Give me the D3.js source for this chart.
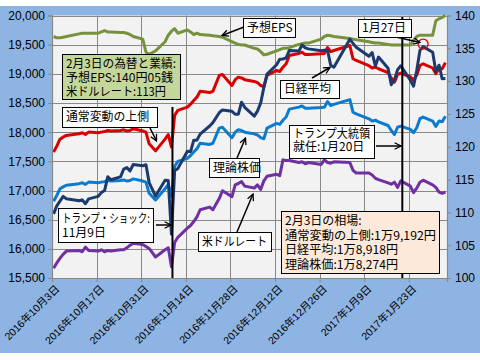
<!DOCTYPE html>
<html><head><meta charset="utf-8">
<script src="https://cdn.jsdelivr.net/npm/d3@7"></script>
<style>body{margin:0;background:#fff}svg{display:block}</style>
</head><body><svg id="c" width="480" height="360"></svg>
<script>
// ---------- DATA ----------
const dates = [
"2016-10-03","2016-10-04","2016-10-05","2016-10-06","2016-10-07","2016-10-11","2016-10-12","2016-10-13","2016-10-14","2016-10-17",
"2016-10-18","2016-10-19","2016-10-20","2016-10-21","2016-10-24","2016-10-25","2016-10-26","2016-10-27","2016-10-28","2016-10-31",
"2016-11-01","2016-11-02","2016-11-04","2016-11-07","2016-11-08","2016-11-09","2016-11-10","2016-11-11","2016-11-14","2016-11-15",
"2016-11-16","2016-11-17","2016-11-18","2016-11-21","2016-11-22","2016-11-24","2016-11-25","2016-11-28","2016-11-29","2016-11-30",
"2016-12-01","2016-12-02","2016-12-05","2016-12-06","2016-12-07","2016-12-08","2016-12-09","2016-12-12","2016-12-13","2016-12-14",
"2016-12-15","2016-12-16","2016-12-19","2016-12-20","2016-12-21","2016-12-22","2016-12-26","2016-12-27","2016-12-28","2016-12-29",
"2016-12-30","2017-01-04","2017-01-05","2017-01-06","2017-01-10","2017-01-11","2017-01-12","2017-01-13","2017-01-16","2017-01-17",
"2017-01-18","2017-01-19","2017-01-20","2017-01-23","2017-01-24","2017-01-25","2017-01-26","2017-01-27","2017-01-30","2017-01-31",
"2017-02-01","2017-02-02","2017-02-03"];

// 日経平均 (left axis)
const nikkei = [
16599,16736,16819,16899,16860,16824,16840,16774,16856,16900,16964,16999,17235,17185,17234,17365,17392,17336,17446,17425,
17442,17135,16905,17177,17171,16252,17344,17375,17673,17668,17862,17863,17967,18106,18163,18333,18381,18357,18307,18308,
18513,18426,18275,18361,18497,18765,18996,19155,19251,19254,19274,19401,19392,19495,19444,19428,19397,19403,19402,19145,19114,
19594,19521,19454,19301,19365,19135,19287,19095,18814,18894,19072,19138,18891,18788,19058,19402,19467,19369,19041,
19148,18915,18918];

// 通常変動の上側 (left axis)
const upperBand = [
17658,17760,17880,17915,17944,17973,17990,17960,18001,17990,18001,18010,18030,18020,18030,18040,18020,18030,18059,18020,
18001,17800,17680,17880,17960,17744,18287,18373,18430,18480,18544,18600,18700,18680,18700,18972,18990,18800,18900,18943,
18930,18900,18870,18850,18800,18780,18972,19058,19040,19114,19172,19315,19350,19371,19330,19330,19343,19350,19450,19380,19400,
19486,19258,19229,19140,19100,19115,19087,19020,18930,18858,18990,19010,18950,18890,18980,19143,19172,19100,19001,
19100,19087,19192];

// 理論株価 (left axis)
const theoretical = [
16817,16914,17029,17062,17090,17117,17133,17105,17144,17133,17144,17152,17171,17162,17171,17181,17162,17171,17199,17162,
17144,16952,16838,17029,17105,16899,17416,17498,17552,17600,17661,17714,17810,17790,17810,18069,18086,17905,18000,18041,
18029,18000,17971,17952,17905,17886,18069,18150,18133,18204,18259,18395,18429,18449,18410,18410,18422,18429,18524,18457,18476,
18558,18341,18313,18229,18190,18205,18178,18114,18029,17960,18086,18105,18048,17990,18076,18231,18259,18190,18096,
18190,18178,18274];

// 米ドルレート (right axis)
const usdJpy = [
101.5,102.3,103.0,103.6,104.1,104.2,104.0,104.7,104.2,104.1,104.3,104.0,104.2,104.1,104.3,104.3,104.6,105.0,105.3,105.1,
104.8,104.5,103.2,104.3,104.6,101.7,105.4,106.2,107.6,108.0,108.6,109.3,110.4,110.8,110.4,112.1,113.3,112.4,114.2,114.4,
114.7,114.0,113.7,114.2,113.5,114.8,115.5,115.8,115.6,118.0,117.9,117.9,117.6,117.7,117.4,117.6,117.3,118.0,117.6,117.5,117.7,
117.6,116.4,116.0,116.0,115.7,115.2,115.0,114.5,114.3,114.6,113.8,114.8,114.0,113.0,113.7,114.6,114.9,114.2,113.8,
113.1,112.9,113.1];

// 予想EPS (right axis)
const eps = [
136.8,136.6,136.6,136.7,136.8,137.2,137.3,137.3,137.3,137.3,137.5,137.7,137.5,137.5,137.4,137.4,137.3,137.1,136.8,136.4,
134.4,134.1,134.6,136.0,137.0,137.6,138.0,137.3,137.8,137.5,137.1,137.3,137.1,137.0,136.9,136.8,136.7,136.0,135.8,135.6,
135.5,135.5,135.0,134.9,134.5,134.0,134.1,134.6,134.8,135.0,135.0,135.1,135.6,135.7,135.8,135.8,136.4,136.8,137.0,136.9,136.8,
136.5,136.4,136.3,136.0,135.9,135.8,135.8,135.6,135.5,135.5,135.5,135.5,135.5,136.2,136.8,137.0,137.0,137.0,139.2,
139.5,139.7,140.05];

const leftTicks = [15500,16000,16500,17000,17500,18000,18500,19000,19500,20000];
const rightTicks = [100,105,110,115,120,125,130,135,140];
const xTickDates = ["2016-10-03","2016-10-17","2016-10-31","2016-11-14","2016-11-28","2016-12-12","2016-12-26","2017-01-09","2017-01-23"];
const xTickLabels = ["2016年10月3日","2016年10月17日","2016年10月31日","2016年11月14日","2016年11月28日","2016年12月12日","2016年12月26日","2017年1月9日","2017年1月23日"];

// ---------- CHART ----------
const parse = d3.timeParse("%Y-%m-%d");
const svg = d3.select("#c");
const L = 52, R = 447, T = 15.5, B = 278;
const JP = "'Noto Sans CJK JP','Noto Sans',sans-serif";
const AX = "'Liberation Sans',Arial,'Noto Sans CJK JP',sans-serif";

svg.append("rect").attr("x",0).attr("y",6).attr("width",480).attr("height",347).attr("fill","#8EB4E3");
svg.append("rect").attr("x",L).attr("y",T).attr("width",R-L).attr("height",B-T).attr("fill","#F2F2F2");

const x = d3.scaleTime().domain([parse("2016-10-03"), parse("2017-02-04")]).range([L,R]);
const yL = d3.scaleLinear().domain([15500,20000]).range([B,T]);
const yR = d3.scaleLinear().domain([100,140]).range([B,T]);
const px = d => x(d3.timeHour.offset(parse(d),12));

// grid
const grid = svg.append("g").attr("stroke","#888").attr("stroke-width",1);
leftTicks.forEach(v=>grid.append("line").attr("x1",L).attr("x2",R).attr("y1",Math.round(yL(v))+0.5).attr("y2",Math.round(yL(v))+0.5));
xTickDates.forEach(d=>grid.append("line").attr("x1",Math.round(x(parse(d)))+0.5).attr("x2",Math.round(x(parse(d)))+0.5).attr("y1",T).attr("y2",B));

// series
function drawSeries(vals, scale, color, w){
  const line = d3.line().x((d,i)=>px(dates[i])).y(d=>scale(d));
  svg.append("path").datum(vals).attr("d",line).attr("fill","none")
    .attr("stroke",color).attr("stroke-width",w).attr("stroke-linejoin","round");
}
drawSeries(eps, yR, "#76923C", 3);
drawSeries(usdJpy, yR, "#7030A0", 3);
drawSeries(theoretical, yL, "#0B7BD0", 3);
drawSeries(upperBand, yL, "#DA0000", 3);
drawSeries(nikkei, yL, "#1C3A6E", 3);

// vertical event lines
const ev1 = px("2016-11-09")+1, ev2 = px("2017-01-20")+1.5;
svg.append("line").attr("x1",ev1).attr("x2",ev1).attr("y1",107).attr("y2",B).attr("stroke","#000").attr("stroke-width",2);
svg.append("line").attr("x1",ev2).attr("x2",ev2).attr("y1",17).attr("y2",B).attr("stroke","#000").attr("stroke-width",2);

// red circle at 1月27日 Nikkei
svg.append("circle").attr("cx",px("2017-01-27")).attr("cy",yL(nikkei[dates.indexOf("2017-01-27")])-2.5).attr("r",5)
  .attr("fill","none").attr("stroke","#E00000").attr("stroke-width",1.3);

// axes
const axL = svg.append("g").attr("transform",`translate(${L},0)`)
  .call(d3.axisLeft(yL).tickValues(leftTicks).tickSize(4).tickPadding(3).tickFormat(d3.format(",")));
const axR = svg.append("g").attr("transform",`translate(${R},0)`)
  .call(d3.axisRight(yR).tickValues(rightTicks).tickSize(4).tickPadding(4).tickFormat(d3.format("d")));
const axB = svg.append("g").attr("transform",`translate(0,${B})`)
  .call(d3.axisBottom(x).tickValues(xTickDates.map(parse)).tickSize(4).tickFormat((d,i)=>xTickLabels[i]));
[axL,axR,axB].forEach(a=>{
  a.selectAll("path.domain").attr("stroke","#888").attr("stroke-width",1.2);
  a.selectAll(".tick line").attr("stroke","#888");
  a.selectAll("text").attr("fill","#000").style("font-family",AX).style("font-size","12px");
});
axB.selectAll("text").attr("x",0).attr("y",0).attr("dy","0.35em")
  .attr("transform","translate(5,9) rotate(-45)").style("text-anchor","end").style("font-size","10.5px");

// annotations
const defs = svg.append("defs");
defs.append("marker").attr("id","arr").attr("viewBox","0 0 10 10").attr("refX",9).attr("refY",5)
  .attr("markerWidth",8).attr("markerHeight",8).attr("markerUnits","userSpaceOnUse").attr("orient","auto")
  .append("path").attr("d","M1,1 L9,5 L1,9").attr("fill","none").attr("stroke","#000").attr("stroke-width",1.6);
function arrow(x1,y1,x2,y2){
  svg.append("line").attr("x1",x1).attr("y1",y1).attr("x2",x2).attr("y2",y2)
    .attr("stroke","#000").attr("stroke-width",1.5).attr("marker-end","url(#arr)");
}
// lines: [text, width or null]
function box(bx,by,bw,bh,lines,centers,fill){
  svg.append("rect").attr("x",bx+0.5).attr("y",by+0.5).attr("width",bw).attr("height",bh)
    .attr("fill",fill||"#fff").attr("stroke","#000").attr("stroke-width",1);
  lines.forEach((l,i)=>{
    const t = svg.append("text").attr("x",bx+4).attr("y",centers[i]).attr("dy","0.36em").text(l[0])
      .style("font-family",JP).style("font-size","12px").attr("fill","#000");
    if (l[1]) t.attr("textLength",l[1]).attr("lengthAdjust","spacingAndGlyphs");
  });
}
arrow(244,27,222,35.5);
box(243,18,52,19,[["予想EPS",null]],[27.5]);
arrow(396,37,420,42.5);
box(358,19,53,18,[["1月27日",null]],[28]);
box(62,54,118,45,[["2月3日の為替と業績:",110],["予想EPS:140円05銭",107],["米ドルレート:113円",100]],[63.5,78,92],"#C4D79B");
arrow(150,128,156.5,141);
box(62,107,95,20,[["通常変動の上側",83]],[117]);
arrow(312,78,330,67.5);
box(280,80,59,18,[["日経平均",47]],[89]);
arrow(237,158,245.5,138);
box(209,158,50,19,[["理論株価",null]],[167.5]);
arrow(376,146,401,146);
box(289,125,85,33,[["トランプ大統領",77],["就任:1月20日",null]],[134,147]);
arrow(156,225,171,225);
box(58,208,95,34,[["トランプ・ショック:",88],["11月9日",null]],[218.5,232.5]);
arrow(237,232,253,194);
box(198,232,73,19,[["米ドルレート",65]],[241.5]);
box(281,211,158,62,[["2月3日の相場:",null],["通常変動の上側:1万9,192円",151],["日経平均:1万8,918円",113],["理論株価:1万8,274円",113]],[221,235.5,250,264.5],"#FDE9D9");
</script></body></html>
